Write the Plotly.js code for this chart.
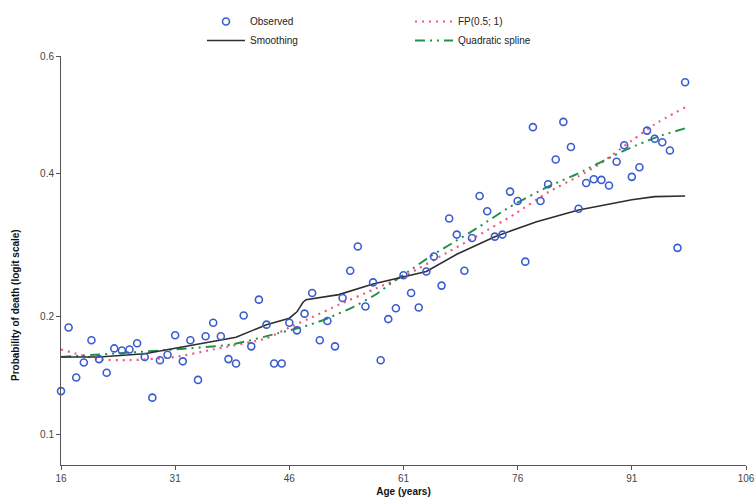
<!DOCTYPE html>
<html>
<head>
<meta charset="utf-8">
<script src="https://cdn.plot.ly/plotly-3.0.1.min.js"></script>
<style>
html,body{margin:0;padding:0;background:#fff;}
#chart{width:755px;height:504px;}
</style>
</head>
<body>
<div id="chart"></div>
<script>
// Observed probability of death by age
const obsAge = [16,17,18,19,20,21,22,23,24,25,26,27,28,29,30,31,32,33,34,35,36,37,38,39,40,41,42,43,44,45,46,47,48,49,50,51,52,53,54,55,56,57,58,59,60,61,62,63,64,65,66,67,68,69,70,71,72,73,74,75,76,77,78,79,80,81,82,83,84,85,86,87,88,89,90,91,92,93,94,95,96,97,98];
const obsP = [0.130,0.188,0.141,0.154,0.175,0.157,0.145,0.167,0.165,0.166,0.172,0.159,0.125,0.156,0.161,0.180,0.155,0.175,0.139,0.179,0.193,0.179,0.157,0.153,0.201,0.169,0.219,0.191,0.153,0.153,0.193,0.185,0.203,0.227,0.175,0.195,0.169,0.221,0.255,0.288,0.211,0.240,0.156,0.197,0.209,0.249,0.227,0.210,0.254,0.274,0.236,0.329,0.305,0.255,0.300,0.364,0.340,0.302,0.305,0.371,0.356,0.267,0.479,0.356,0.383,0.424,0.488,0.445,0.344,0.385,0.391,0.390,0.381,0.420,0.448,0.395,0.411,0.473,0.459,0.453,0.439,0.286,0.556];

// Smoothing curve
const smoothAge = [16,21,27,31,33,39,43,46,47,47.8,48.2,52.5,57,61,64,68,73,78.5,84,91,94,98];
const smoothP = [0.159,0.159,0.162,0.167,0.170,0.178,0.191,0.198,0.205,0.216,0.219,0.225,0.238,0.247,0.254,0.277,0.302,0.324,0.342,0.358,0.363,0.364];

// FP(0.5; 1) curve
const fpAge = [16,18,21,25,31,36,43,46,49,52.5,57,61.5,67,71,75.5,80,84,86.5,91,94,98];
const fpP = [0.166,0.162,0.157,0.156,0.159,0.166,0.177,0.188,0.199,0.213,0.231,0.250,0.281,0.305,0.335,0.370,0.396,0.414,0.456,0.484,0.513];

// Quadratic spline curve
const qsAge = [16,30,38.5,44.5,47.5,50.5,54.5,57.5,59.5,61.5,64.5,67,71,75,80,84,90,94.5,98];
const qsP = [0.159,0.1655,0.171,0.182,0.188,0.196,0.211,0.226,0.240,0.253,0.274,0.290,0.317,0.347,0.379,0.401,0.439,0.463,0.477];

// Axis ticks
const xTicks = [16,31,46,61,76,91,106];
const yTickP = [0.1,0.2,0.4,0.6];
const yTickText = ['0.1','0.2','0.4','0.6'];

const logit = p => Math.log(p/(1-p));
const L = arr => arr.map(logit);

const FONT = 'Liberation Sans, Arial, sans-serif';
const PW = 685; // plot-area width in px
const PH = 409; // plot-area height in px

const traces = [
  {x: fpAge, y: L(fpP), name: 'FP(0.5; 1)', type:'scatter', mode:'lines', legend:'legend2', legendrank:1,
   line:{color:'#f2567e', width:2.2, dash:'2px,5px', shape:'spline', smoothing:0.6}},
  {x: qsAge, y: L(qsP), name: 'Quadratic spline', type:'scatter', mode:'lines', legend:'legend2', legendrank:2,
   line:{color:'#1f9445', width:2, dash:'10px,5px,2px,5px,2px,5px', shape:'spline', smoothing:0.6}},
  {x: smoothAge, y: L(smoothP), name: 'Smoothing', type:'scatter', mode:'lines', legend:'legend', legendrank:2,
   line:{color:'#2e2e2e', width:1.6}},
  {x: obsAge, y: L(obsP), name: 'Observed', type:'scatter', mode:'markers', legend:'legend', legendrank:1, cliponaxis:false,
   marker:{symbol:'circle-open', size:7, color:'#3b5cd0', line:{width:1.6, color:'#3b5cd0'}}}
];

const legendBase = {orientation:'v', xanchor:'left', yanchor:'top', y:(465-7)/PH,
  font:{family:FONT, size:10, color:'#222'}, bgcolor:'rgba(0,0,0,0)', itemwidth:38,
  traceorder:'normal', tracegroupgap:0};

const layout = {
  width:755, height:504,
  paper_bgcolor:'#ffffff', plot_bgcolor:'#ffffff',
  margin:{l:61, r:755-61-PW, t:56, b:39, autoexpand:false},
  font:{family:FONT, size:10, color:'#333'},
  showlegend:true,
  legend:Object.assign({}, legendBase, {x:(202-61)/PW}),
  legend2:Object.assign({}, legendBase, {x:(410-61)/PW}),
  xaxis:{range:[16,106], tickvals:xTicks, ticktext:xTicks.map(String), ticklabeloverflow:'allow',
         showgrid:false, zeroline:false, showline:true, linecolor:'#555', linewidth:1,
         ticks:'outside', ticklen:4, tickcolor:'#555', tickfont:{family:FONT,size:10,color:'#444'},
         title:{text:'<b>Age (years)</b>', font:{family:FONT,size:10,color:'#111'}, standoff:4}},
  yaxis:{range:[logit(0.6)-PH/145.3, logit(0.6)], tickvals:L(yTickP), ticktext:yTickText,
         showgrid:false, zeroline:false, showline:true, linecolor:'#555', linewidth:1,
         ticks:'outside', ticklen:4, tickcolor:'#555', tickfont:{family:FONT,size:10,color:'#444'}},
  annotations:[
    {text:'<b>Probability of death (logit scale)</b>', textangle:-90, xref:'paper', yref:'paper',
     x:(15-61)/PW, y:(465-305)/PH, xanchor:'center', yanchor:'middle', showarrow:false,
     font:{family:FONT,size:10,color:'#111'}}
  ]
};

Plotly.newPlot('chart', traces, layout, {staticPlot:true, displayModeBar:false});
</script>
</body>
</html>
